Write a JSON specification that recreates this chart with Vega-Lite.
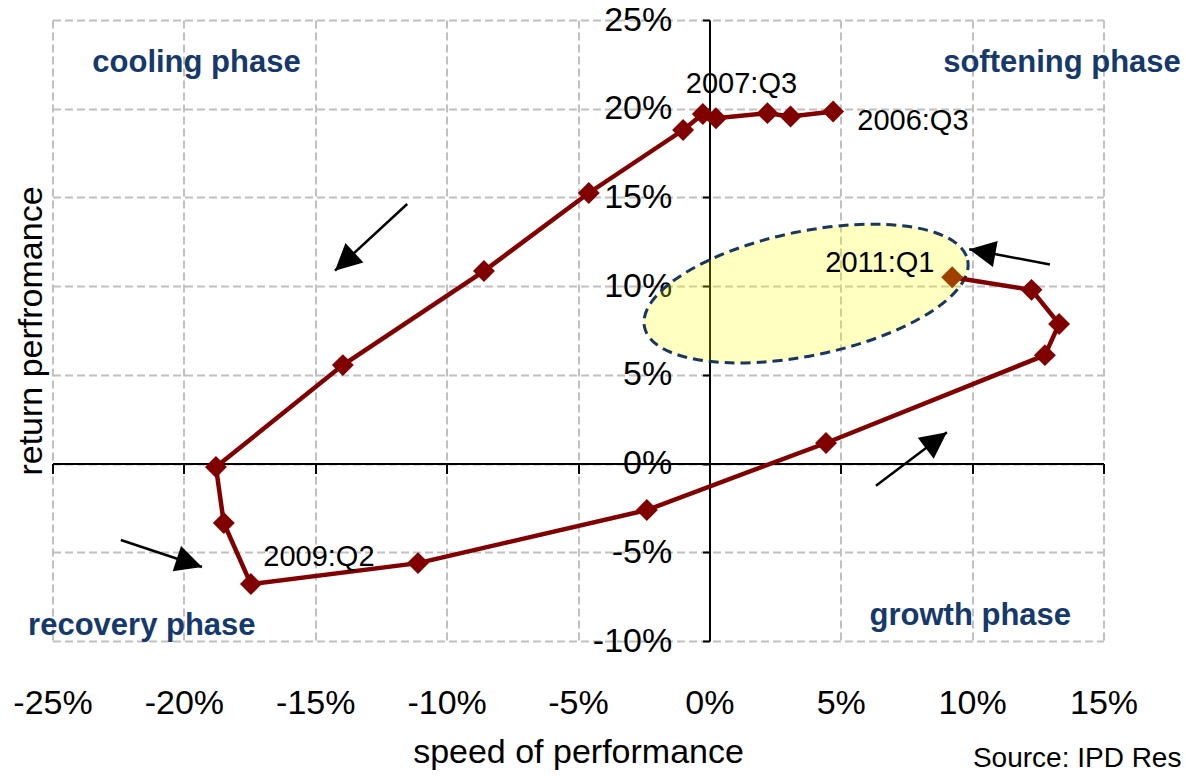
{
  "$schema": "https://vega.github.io/schema/vega-lite/v6.json",
  "width": 1051,
  "height": 621,
  "autosize": {"type": "none"},
  "padding": {"left": 52.5, "top": 20, "right": 82.5, "bottom": 135},
  "background": "white",
  "config": {"view": {"stroke": null}, "font": "Liberation Sans"},
  "datasets": {
    "series": [
      {"i": 1, "q": "2006:Q3", "x": 4.71, "y": 19.84},
      {"i": 2, "q": "2006:Q4", "x": 3.09, "y": 19.56},
      {"i": 3, "q": "2007:Q1", "x": 2.21, "y": 19.75},
      {"i": 4, "q": "2007:Q2", "x": 0.25, "y": 19.46},
      {"i": 5, "q": "2007:Q3", "x": -0.25, "y": 19.7},
      {"i": 6, "q": "2007:Q4", "x": -1.0, "y": 18.8},
      {"i": 7, "q": "2008:Q1", "x": -4.59, "y": 15.25},
      {"i": 8, "q": "2008:Q2", "x": -8.58, "y": 10.85},
      {"i": 9, "q": "2008:Q3", "x": -13.95, "y": 5.55},
      {"i": 10, "q": "2008:Q4", "x": -18.78, "y": -0.19},
      {"i": 11, "q": "2009:Q1", "x": -18.48, "y": -3.35},
      {"i": 12, "q": "2009:Q2", "x": -17.45, "y": -6.79},
      {"i": 13, "q": "2009:Q3", "x": -11.09, "y": -5.61},
      {"i": 14, "q": "2009:Q4", "x": -2.38, "y": -2.62},
      {"i": 15, "q": "2010:Q1", "x": 4.44, "y": 1.16},
      {"i": 16, "q": "2010:Q2", "x": 12.77, "y": 6.11},
      {"i": 17, "q": "2010:Q3", "x": 13.31, "y": 7.87},
      {"i": 18, "q": "2010:Q4", "x": 12.26, "y": 9.79},
      {"i": 19, "q": "2011:Q1", "x": 9.24, "y": 10.5}
    ],
    "ellipse": [{"x": 3.68, "y": 9.58}],
    "arrows": [
      {"x": -14.25, "y": 10.87, "x0": -11.5, "y0": 14.63, "heading": 227.3},
      {"x": -19.31, "y": -5.83, "x0": -22.4, "y0": -4.31, "heading": 108.4},
      {"x": 9.04, "y": 1.76, "x0": 6.34, "y0": -1.25, "heading": 53.0},
      {"x": 9.89, "y": 12.08, "x0": 12.96, "y0": 11.22, "heading": 280.3}
    ],
    "pointLabels": [
      {"label": "2006:Q3", "x": 7.745, "y": 18.8},
      {"label": "2007:Q3", "x": 1.22, "y": 20.91},
      {"label": "2009:Q2", "x": -14.86, "y": -5.77},
      {"label": "2011:Q1", "x": 6.49, "y": 10.82}
    ],
    "phases": [
      {"label": "cooling phase", "x": -19.52, "y": 22.09},
      {"label": "softening phase", "x": 13.42, "y": 22.09},
      {"label": "recovery phase", "x": -21.6, "y": -9.66},
      {"label": "growth phase", "x": 9.93, "y": -9.1}
    ],
    "source": [{"label": "Source: IPD Res", "x": 10.03, "y": -17.09}]
  },
  "encoding": {
    "x": {
      "field": "x",
      "type": "quantitative",
      "scale": {"domain": [-25, 15], "nice": false, "zero": false},
      "axis": {
        "values": [-25, -20, -15, -10, -5, 0, 5, 10, 15],
        "labelExpr": "datum.value + '%'",
        "offset": -177.4,
        "grid": true,
        "gridColor": "#c0c0c0",
        "gridDash": [8, 4],
        "gridWidth": 2,
        "domainColor": "black",
        "domainWidth": 2,
        "tickColor": "black",
        "tickWidth": 2,
        "tickSize": 10,
        "labelPadding": 213.2,
        "labelFontSize": 34,
        "labelFont": "Liberation Sans",
        "labelColor": "black",
        "labelFlush": false,
        "labelOverlap": false,
        "title": "speed of performance",
        "titleFont": "Liberation Sans",
        "titleFontSize": 34,
        "titleFontWeight": "normal",
        "titleColor": "black",
        "titleX": 525.5,
        "titleY": 298.5,
        "titleBaseline": "alphabetic",
        "titleAlign": "center"
      }
    },
    "y": {
      "field": "y",
      "type": "quantitative",
      "scale": {"domain": [-10, 25], "nice": false, "zero": false},
      "axis": {
        "values": [-10, -5, 0, 5, 10, 15, 20, 25],
        "labelExpr": "datum.value + '%'",
        "offset": -657,
        "grid": true,
        "gridColor": "#c0c0c0",
        "gridDash": [8, 4],
        "gridWidth": 2,
        "domainColor": "black",
        "domainWidth": 2,
        "tickColor": "black",
        "tickWidth": 2,
        "tickSize": 7,
        "labelPadding": 30.8,
        "labelFontSize": 34,
        "labelFont": "Liberation Sans",
        "labelColor": "black",
        "labelFlush": false,
        "labelOverlap": false,
        "title": "return perfromance",
        "titleFont": "Liberation Sans",
        "titleFontSize": 34,
        "titleFontWeight": "normal",
        "titleColor": "black",
        "titleAngle": -90,
        "titleX": -668,
        "titleY": 310.5,
        "titleBaseline": "alphabetic",
        "titleAlign": "center"
      }
    }
  },
  "layer": [
    {
      "data": {"name": "ellipse"},
      "mark": {
        "type": "point",
        "shape": "M0.9792,-0.2028 C1.0213,0.0006 0.6171,0.2562 0.0763,0.3682 C-0.4646,0.4802 -0.9371,0.4062 -0.9792,0.2028 C-1.0213,-0.0006 -0.6171,-0.2562 -0.0763,-0.3682 C0.4646,-0.4802 0.9371,-0.4062 0.9792,-0.2028 Z",
        "size": 108900,
        "filled": true,
        "fill": "#ffff00",
        "fillOpacity": 0.25,
        "stroke": "#17375e",
        "strokeWidth": 3,
        "strokeDash": [10, 6],
        "opacity": 1
      }
    },
    {
      "data": {"name": "series"},
      "mark": {"type": "line", "color": "#800000", "strokeWidth": 4.5},
      "encoding": {"order": {"field": "i", "type": "quantitative"}}
    },
    {
      "data": {"name": "series"},
      "mark": {"type": "point", "shape": "diamond", "filled": true, "size": 480, "opacity": 1},
      "encoding": {
        "color": {
          "condition": {"test": "datum.q === '2011:Q1'", "value": "#a04000"},
          "value": "#800000"
        }
      }
    },
    {
      "data": {"name": "arrows"},
      "mark": {"type": "rule", "color": "black", "strokeWidth": 2.5},
      "encoding": {
        "x2": {"field": "x0"},
        "y2": {"field": "y0"}
      }
    },
    {
      "data": {"name": "arrows"},
      "mark": {
        "type": "point",
        "shape": "M0,0 L0.5,1 L-0.5,1 Z",
        "filled": true,
        "color": "black",
        "size": 2809,
        "opacity": 1
      },
      "encoding": {
        "angle": {"field": "heading", "type": "quantitative", "scale": null}
      }
    },
    {
      "data": {"name": "pointLabels"},
      "mark": {
        "type": "text",
        "font": "Liberation Sans",
        "fontSize": 29,
        "color": "black",
        "align": "center",
        "baseline": "alphabetic"
      },
      "encoding": {"text": {"field": "label"}}
    },
    {
      "data": {"name": "phases"},
      "mark": {
        "type": "text",
        "font": "Liberation Sans",
        "fontSize": 31,
        "fontWeight": "bold",
        "color": "#15396a",
        "align": "center",
        "baseline": "alphabetic"
      },
      "encoding": {"text": {"field": "label"}}
    },
    {
      "data": {"name": "source"},
      "mark": {
        "type": "text",
        "font": "Liberation Sans",
        "fontSize": 28,
        "color": "black",
        "align": "left",
        "baseline": "alphabetic"
      },
      "encoding": {"text": {"field": "label"}}
    }
  ]
}
